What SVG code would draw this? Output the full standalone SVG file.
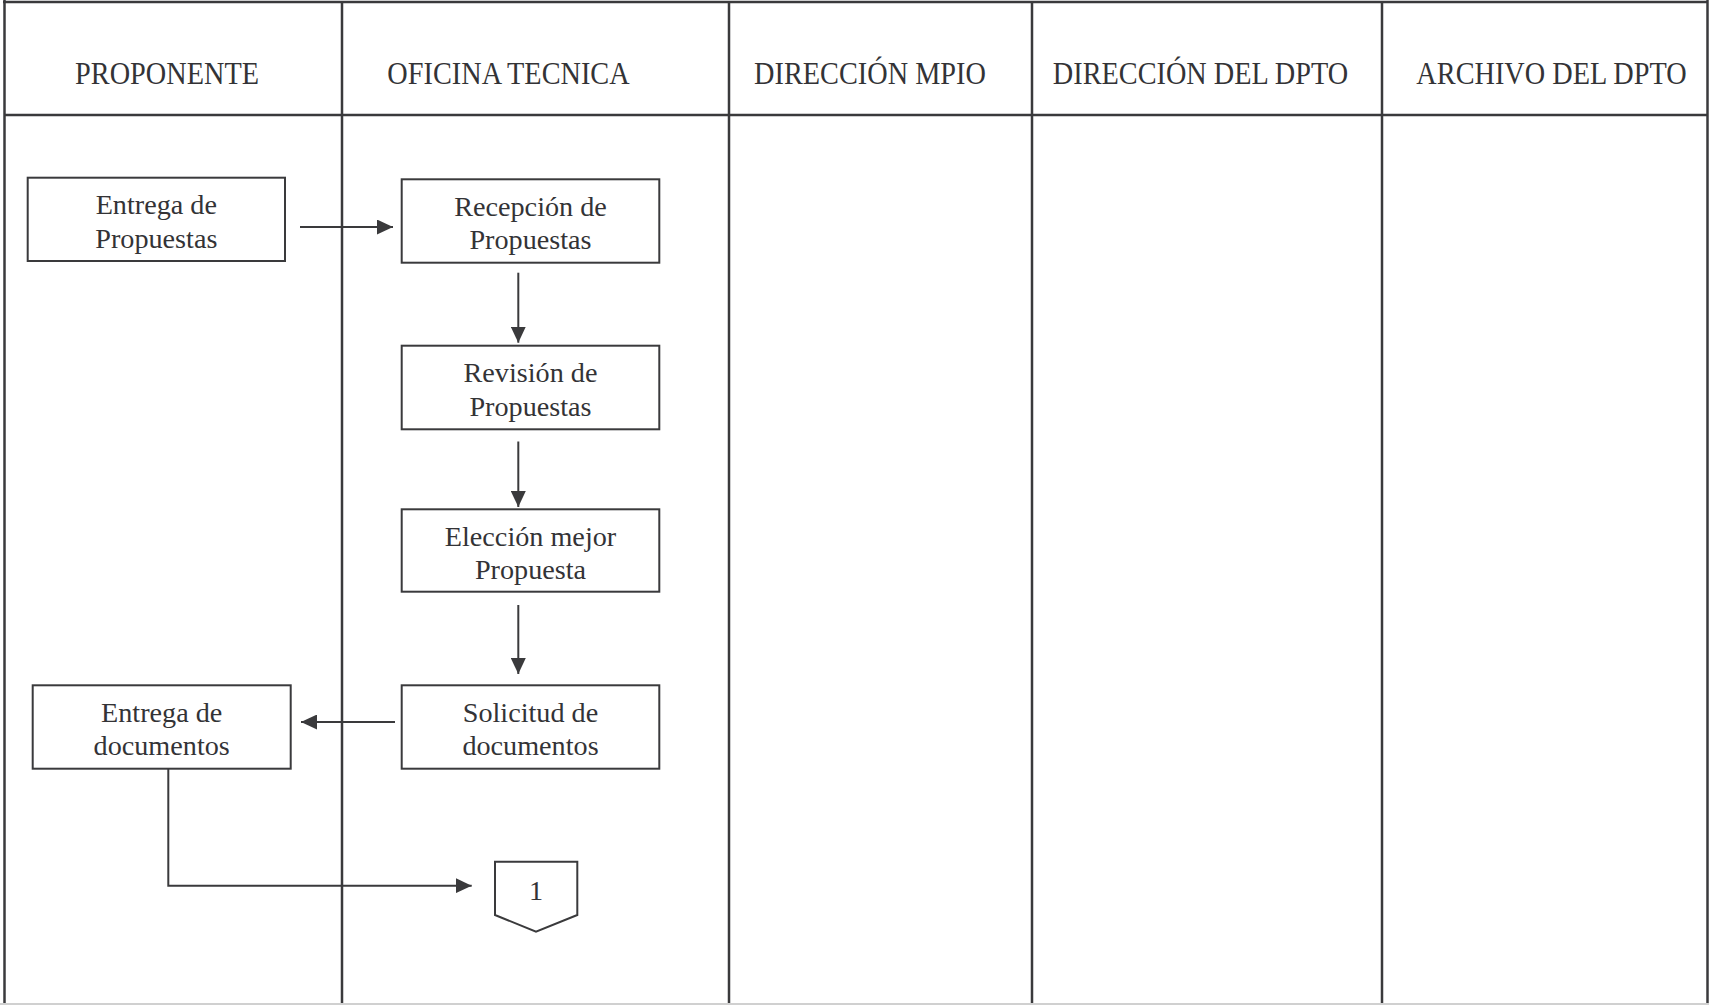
<svg xmlns="http://www.w3.org/2000/svg" width="1709" height="1005" viewBox="0 0 1709 1005">
  <style>
    .lane { fill: none; stroke: #3a3a3c; stroke-width: 2.5; }
    .box { fill: #ffffff; stroke: #3a3a3c; stroke-width: 2; }
    .conn { fill: none; stroke: #3a3a3c; stroke-width: 2; }
    .hdr { font-family: "Liberation Serif", "Times New Roman", serif; font-size: 28.3px; fill: #333336; text-anchor: middle; }
    .lbl { font-family: "Liberation Serif", "Times New Roman", serif; font-size: 28.2px; fill: #333336; text-anchor: middle; }
  </style>
  <defs>
    <marker id="arrow" markerUnits="userSpaceOnUse" markerWidth="17" markerHeight="15" refX="16" refY="7.5" orient="auto">
      <path d="M0,0 L16,7.5 L0,15 Z" fill="#3a3a3c"/>
    </marker>
  </defs>

  <rect width="1709" height="1005" fill="#ffffff"/>

  <!-- swimlane frame -->
  <g id="lanes">
    <line class="lane" x1="3" y1="2" x2="1708" y2="2" stroke-width="3"/>
    <line class="lane" x1="4.5" y1="0" x2="4.5" y2="1005"/>
    <line class="lane" x1="1707.5" y1="0" x2="1707.5" y2="1005"/>
    <line class="lane" x1="4.5" y1="115" x2="1707.5" y2="115"/>
    <line class="lane" x1="342" y1="2" x2="342" y2="1005"/>
    <line class="lane" x1="729" y1="2" x2="729" y2="1005"/>
    <line class="lane" x1="1032" y1="2" x2="1032" y2="1005"/>
    <line class="lane" x1="1382" y1="2" x2="1382" y2="1005"/>
    <line x1="0" y1="1004" x2="1709" y2="1004" stroke="#d0d0d0" stroke-width="2"/>
  </g>

  <!-- lane headers -->
  <g id="headers">
    <text class="hdr" transform="translate(167,84) scale(1,1.12)">PROPONENTE</text>
    <text class="hdr" transform="translate(508.5,84) scale(1,1.12)">OFICINA TECNICA</text>
    <text class="hdr" transform="translate(870,84) scale(1,1.12)">DIRECCIÓN MPIO</text>
    <text class="hdr" transform="translate(1200.5,84) scale(1,1.12)">DIRECCIÓN DEL DPTO</text>
    <text class="hdr" transform="translate(1551.5,84) scale(1,1.12)">ARCHIVO DEL DPTO</text>
  </g>

  <!-- connectors -->
  <g id="connectors">
    <line class="conn" x1="300" y1="227" x2="393" y2="227" marker-end="url(#arrow)"/>
    <line class="conn" x1="518.3" y1="272.7" x2="518.3" y2="342.7" marker-end="url(#arrow)"/>
    <line class="conn" x1="518.3" y1="441.5" x2="518.3" y2="507" marker-end="url(#arrow)"/>
    <line class="conn" x1="518.3" y1="605" x2="518.3" y2="674" marker-end="url(#arrow)"/>
    <line class="conn" x1="395" y1="722" x2="301" y2="722" marker-end="url(#arrow)"/>
    <polyline class="conn" points="168.3,768.7 168.3,885.7 471.7,885.7" marker-end="url(#arrow)"/>
  </g>

  <!-- process steps -->
  <g id="entrega-propuestas">
    <rect class="box" x="27.7" y="177.7" width="257.3" height="83.3"/>
    <text class="lbl" x="156.3" y="214">Entrega de</text>
    <text class="lbl" x="156.3" y="247.5">Propuestas</text>
  </g>

  <g id="recepcion-propuestas">
    <rect class="box" x="401.7" y="179.3" width="257.6" height="83.4"/>
    <text class="lbl" x="530.5" y="215.5">Recepción de</text>
    <text class="lbl" x="530.5" y="249">Propuestas</text>
  </g>

  <g id="revision-propuestas">
    <rect class="box" x="401.7" y="345.7" width="257.6" height="83.6"/>
    <text class="lbl" x="530.5" y="382">Revisión de</text>
    <text class="lbl" x="530.5" y="415.5">Propuestas</text>
  </g>

  <g id="eleccion-propuesta">
    <rect class="box" x="401.7" y="509.3" width="257.6" height="82.4"/>
    <text class="lbl" x="530.5" y="545.5">Elección mejor</text>
    <text class="lbl" x="530.5" y="579">Propuesta</text>
  </g>

  <g id="solicitud-documentos">
    <rect class="box" x="401.7" y="685.3" width="257.6" height="83.4"/>
    <text class="lbl" x="530.5" y="721.5">Solicitud de</text>
    <text class="lbl" x="530.5" y="755">documentos</text>
  </g>

  <g id="entrega-documentos">
    <rect class="box" x="32.7" y="685.3" width="258" height="83.4"/>
    <text class="lbl" x="161.7" y="721.5">Entrega de</text>
    <text class="lbl" x="161.7" y="755">documentos</text>
  </g>

  <!-- off-page reference -->
  <g id="conector-1">
    <polygon class="box" points="495,861.7 577.3,861.7 577.3,915 536,931.7 495,915"/>
    <text class="lbl" x="536" y="900">1</text>
  </g>
</svg>
